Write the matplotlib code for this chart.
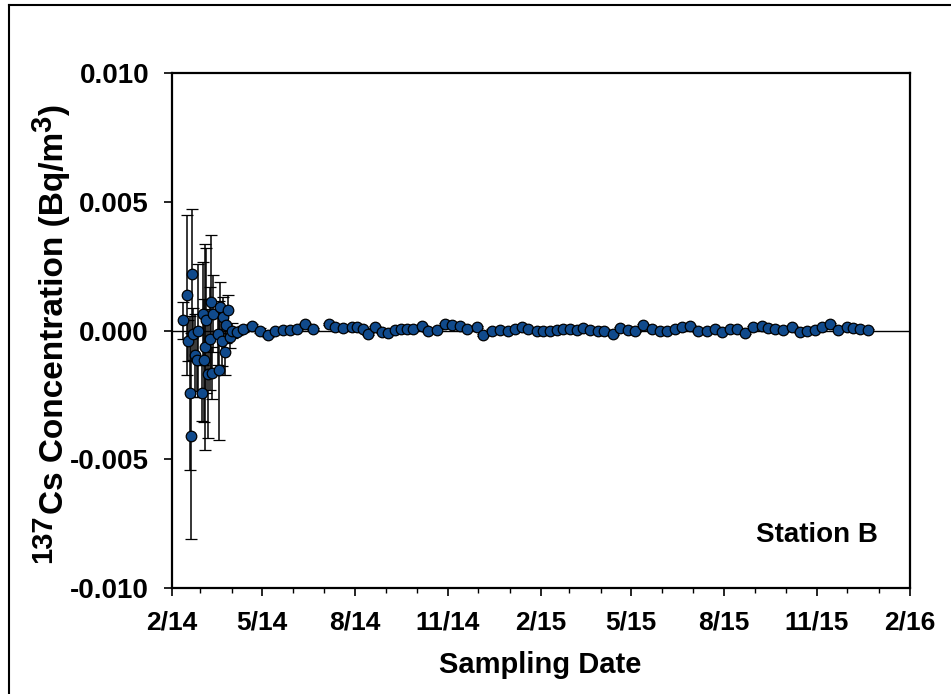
import matplotlib
matplotlib.use("Agg")
import matplotlib.pyplot as plt
import matplotlib.dates as mdates
from matplotlib.lines import Line2D
from matplotlib.transforms import IdentityTransform
import pandas as pd

# Intensive sampling period: date, concentration (Bq/m3), 1-sigma uncertainty
early_dates = ["2014-02-12", "2014-02-16", "2014-02-17", "2014-02-19", "2014-02-20",
               "2014-02-21", "2014-02-22", "2014-02-24", "2014-02-26", "2014-02-27",
               "2014-03-03", "2014-03-04", "2014-03-05", "2014-03-06", "2014-03-07",
               "2014-03-09", "2014-03-11", "2014-03-12", "2014-03-13", "2014-03-14",
               "2014-03-18", "2014-03-19", "2014-03-20", "2014-03-22", "2014-03-23",
               "2014-03-25", "2014-03-26", "2014-03-28", "2014-03-30", "2014-04-01"]
early_conc = [0.00039, 0.00138, -0.00039, -0.00243, -0.00410,
              0.00220, -0.00013, -0.00097, -0.00116, 0.00000,
              -0.00243, 0.00065, -0.00116, -0.00065, 0.00039,
              -0.00168, -0.00032, 0.00110, -0.00165, 0.00065,
              -0.00013, -0.00155, 0.00090, -0.00039, 0.00052,
              -0.00084, 0.00020, 0.00078, -0.00026, 0.00000]
early_err = [0.0007, 0.0031, 0.0008, 0.0030, 0.0040,
             0.0025, 0.0010, 0.0016, 0.0012, 0.0026,
             0.0011, 0.0020, 0.0024, 0.0040, 0.0028,
             0.0025, 0.0020, 0.0026, 0.0010, 0.0015,
             0.0012, 0.0027, 0.0010, 0.0010, 0.0008,
             0.0009, 0.0007, 0.0006, 0.0004, 0.0003]

# Routine weekly sampling
weekly_dates = ["2014-04-06", "2014-04-12", "2014-04-21", "2014-04-29", "2014-05-07",
                "2014-05-14", "2014-05-22", "2014-05-29", "2014-06-05", "2014-06-13",
                "2014-06-20", "2014-07-06", "2014-07-12", "2014-07-20", "2014-07-29",
                "2014-08-03", "2014-08-09", "2014-08-14", "2014-08-21", "2014-08-28",
                "2014-09-03", "2014-09-10", "2014-09-15", "2014-09-21", "2014-09-27",
                "2014-10-06", "2014-10-12", "2014-10-21", "2014-10-29", "2014-11-05",
                "2014-11-13", "2014-11-20", "2014-11-30", "2014-12-06", "2014-12-15",
                "2014-12-22", "2014-12-30", "2015-01-06", "2015-01-13", "2015-01-19",
                "2015-01-28", "2015-02-03", "2015-02-10", "2015-02-17", "2015-02-23",
                "2015-03-02", "2015-03-09", "2015-03-15", "2015-03-21", "2015-03-29",
                "2015-04-04", "2015-04-13", "2015-04-20", "2015-04-28", "2015-05-05",
                "2015-05-13", "2015-05-22", "2015-05-30", "2015-06-06", "2015-06-14",
                "2015-06-20", "2015-06-28", "2015-07-06", "2015-07-15", "2015-07-23",
                "2015-07-30", "2015-08-07", "2015-08-14", "2015-08-22", "2015-08-30",
                "2015-09-08", "2015-09-14", "2015-09-20", "2015-09-28", "2015-10-07",
                "2015-10-15", "2015-10-22", "2015-10-30", "2015-11-06", "2015-11-14",
                "2015-11-22", "2015-12-01", "2015-12-07", "2015-12-14", "2015-12-21"]
weekly_conc = [-0.00006, 0.00006, 0.00016, 0.00000, -0.00019,
               -0.00003, 0.00003, 0.00003, 0.00006, 0.00026,
               0.00006, 0.00026, 0.00015, 0.00010, 0.00015,
               0.00013, 0.00006, -0.00015, 0.00015, -0.00006,
               -0.00010, 0.00003, 0.00006, 0.00006, 0.00006,
               0.00019, 0.00000, 0.00003, 0.00026, 0.00023,
               0.00019, 0.00006, 0.00013, -0.00019, 0.00000,
               0.00003, 0.00000, 0.00006, 0.00015, 0.00006,
               0.00000, -0.00003, 0.00000, 0.00003, 0.00006,
               0.00006, 0.00003, 0.00010, 0.00003, 0.00000,
               0.00000, -0.00013, 0.00010, 0.00003, 0.00000,
               0.00023, 0.00006, 0.00000, 0.00000, 0.00006,
               0.00013, 0.00019, 0.00000, -0.00003, 0.00006,
               -0.00006, 0.00006, 0.00006, -0.00010, 0.00015,
               0.00019, 0.00010, 0.00006, 0.00003, 0.00015,
               -0.00006, 0.00000, 0.00003, 0.00013, 0.00026,
               0.00003, 0.00015, 0.00010, 0.00006, 0.00003]
weekly_err = [0.00012, 0.00010, 0.00010, 0.00008, 0.00008] + [0.00004] * 80

y_ticks = [-0.010, -0.005, 0.000, 0.005, 0.010]

plt.rcParams["font.family"] = ["Liberation Sans", "DejaVu Sans"]
plt.rcParams["font.weight"] = "bold"
plt.rcParams["axes.unicode_minus"] = False

dates = pd.to_datetime(early_dates + weekly_dates)
conc = early_conc + weekly_conc
err = early_err + weekly_err

W, H = 951, 694
fig = plt.figure(figsize=(W / 100, H / 100), dpi=100)
ax = fig.add_axes([0.1809, 0.1527, 0.776, 0.7421])

ax.axhline(0, color="black", lw=1.0, zorder=1)
ax.errorbar(dates, conc, yerr=err, fmt="o", color="black", ecolor="black",
            elinewidth=1.1, capsize=4.5, capthick=1.0,
            markersize=7.6, markerfacecolor="#104a8c", markeredgecolor="black",
            markeredgewidth=0.9, zorder=3)

ax.set_xlim(pd.Timestamp("2014-02-01"), pd.Timestamp("2016-02-01"))
ax.set_ylim(-0.010, 0.010)
ax.set_yticks(y_ticks)
ax.yaxis.set_major_formatter(matplotlib.ticker.FormatStrFormatter("%.3f"))

ax.xaxis.set_major_locator(mdates.MonthLocator(bymonth=[2, 5, 8, 11]))
ax.xaxis.set_minor_locator(mdates.MonthLocator())
ax.xaxis.set_major_formatter(mdates.DateFormatter("%-m/%y"))

for s in ax.spines.values():
    s.set_linewidth(1.6)

ax.tick_params(axis="y", which="major", direction="out", length=5.5, width=1.2,
               labelsize=20, pad=11)
ax.tick_params(axis="x", which="major", direction="out", length=6, width=1.2,
               labelsize=19, pad=10)
ax.tick_params(axis="x", which="minor", direction="out", length=3.5, width=1.0)

fig.text(540 / W, 1 - 665 / H, "Sampling Date", ha="center", va="center",
         fontsize=21, fontweight="bold")

ax.text(0.957, 0.103, "Station B", transform=ax.transAxes, ha="right",
        va="center", fontsize=20, fontweight="bold")

# Rotated y-axis title built from pieces so the superscripts stay large
renderer = fig.canvas.get_renderer()
pieces = [("137", 21, 51), ("Cs Concentration (Bq/m", 24, 63), ("3", 21, 51), (")", 24, 63)]
y_pos = H - 563
for s, size, base_x in pieces:
    t = fig.text(base_x, y_pos, s, transform=IdentityTransform(), rotation=90,
                 rotation_mode="anchor", ha="left", va="baseline",
                 fontsize=size, fontweight="bold")
    y_pos += t.get_window_extent(renderer).height

# Frame lines along the top and left edges of the figure
fig.add_artist(Line2D([9 / W, 1.0], [1 - 5 / H, 1 - 5 / H],
                      transform=fig.transFigure, color="black", lw=1.5))
fig.add_artist(Line2D([9 / W, 9 / W], [0.0, 1 - 5 / H],
                      transform=fig.transFigure, color="black", lw=1.5))

fig.savefig("out.png", dpi=100)
